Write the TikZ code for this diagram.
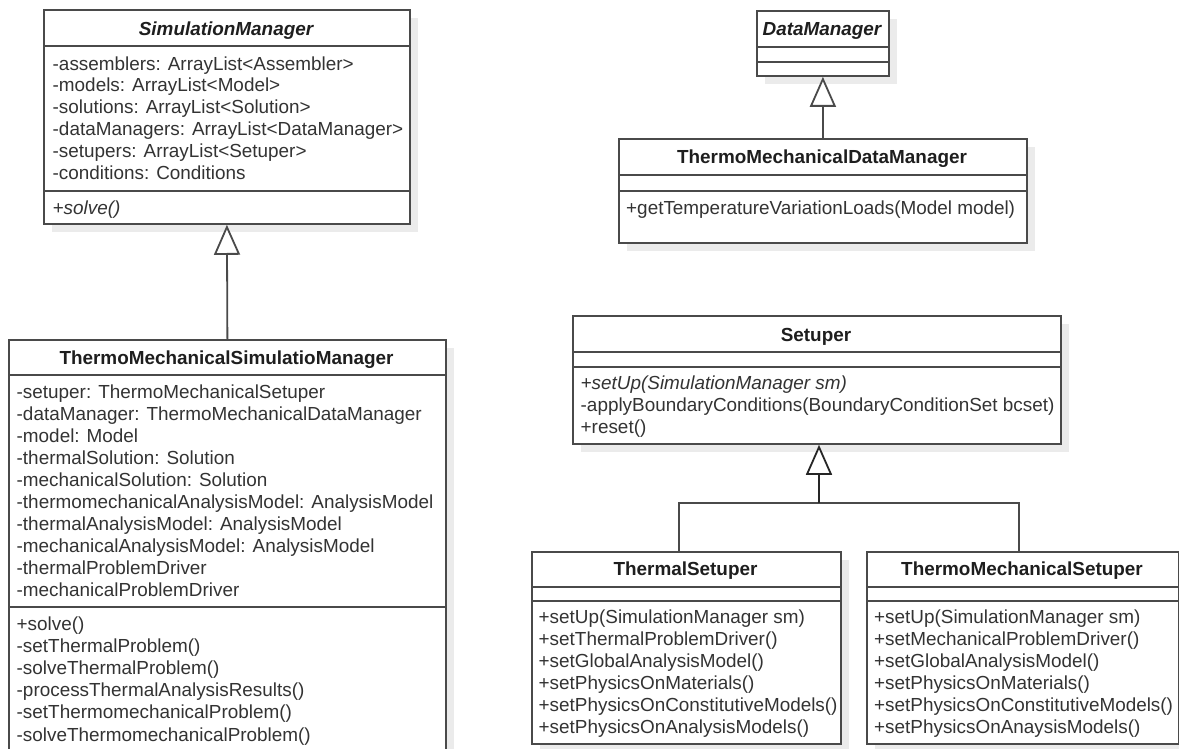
\documentclass[tikz,border=0pt]{standalone}
\usepackage{fontspec}
\setmainfont{Liberation Sans}
\usetikzlibrary{arrows.meta,shadows}

\definecolor{edge}{HTML}{4A4A4A}
\definecolor{stem}{HTML}{262626}
\definecolor{ink}{HTML}{333333}
\definecolor{headink}{HTML}{1E1E1E}
\definecolor{shade}{HTML}{EBEBEB}

\newcommand\umlfont{\fontsize{18.9}{22}\selectfont}

\tikzset{
  umlbox/.style={rectangle, draw=edge, line width=1.8pt, fill=white, inner sep=0pt,
    anchor=north west,
    drop shadow={shadow xshift=8pt, shadow yshift=-8pt, fill=shade, opacity=1}},
  compart/.style={draw=edge, line width=1.8pt},
  ln/.style={anchor=west, inner sep=0pt, text height=13.5pt, text depth=0pt,
    font=\umlfont, text=ink},
  classname/.style={anchor=center, inner sep=0pt, text height=13.5pt, text depth=0pt,
    font=\umlfont\bfseries, text=headink},
  tree/.style={draw=edge, line width=1.8pt},
  inherit/.style={draw=edge, line width=1.8pt,
    -{Triangle[length=30pt, width=26pt, fill=white]}},
}

\begin{document}
\begin{tikzpicture}[x=1pt, y=-1pt]
\useasboundingbox (0,0) rectangle (1179,749);
\clip (0,0) rectangle (1179,749);

% ---------- SimulationManager ----------
\node[umlbox, minimum width=366pt, minimum height=214pt] (sm) at (43,9) {};
\draw[compart] (43,46) -- (409,46);
\draw[compart] (43,191) -- (409,191);
\node[classname, font=\umlfont\bfseries\itshape] (sm-t) at (226,28.5) {SimulationManager};
\foreach [count=\i] \t in {{-assemblers: ArrayList<Assembler>},
    {-models: ArrayList<Model>},
    {-solutions: ArrayList<Solution>},
    {-dataManagers: ArrayList<DataManager>},
    {-setupers: ArrayList<Setuper>},
    {-conditions: Conditions}}
  \node[ln, name=sm-a\i] at (52.5,{63.3+21.9*(\i-1)}) {\t};
\node[ln, font=\umlfont\itshape] (sm-m1) at (52.5,207.3) {+solve()};

% ---------- ThermoMechanicalSimulatioManager ----------
\node[umlbox, minimum width=437pt, minimum height=470pt] (tmsm) at (8,339) {};
\draw[compart] (8,375) -- (445,375);
\draw[compart] (8,607) -- (445,607);
\node[classname] (tmsm-t) at (226.5,358) {ThermoMechanicalSimulatioManager};
\foreach [count=\i] \t in {{-setuper: ThermoMechanicalSetuper},
    {-dataManager: ThermoMechanicalDataManager},
    {-model: Model},
    {-thermalSolution: Solution},
    {-mechanicalSolution: Solution},
    {-thermomechanicalAnalysisModel: AnalysisModel},
    {-thermalAnalysisModel: AnalysisModel},
    {-mechanicalAnalysisModel: AnalysisModel},
    {-thermalProblemDriver},
    {-mechanicalProblemDriver}}
  \node[ln, name=tmsm-a\i] at (16.5,{391.7+22*(\i-1)}) {\t};
\foreach [count=\i] \t in {{+solve()},
    {-setThermalProblem()},
    {-solveThermalProblem()},
    {-processThermalAnalysisResults()},
    {-setThermomechanicalProblem()},
    {-solveThermomechanicalProblem()}}
  \node[ln, name=tmsm-m\i] at (16.5,{623.3+22.2*(\i-1)}) {\t};

% ---------- DataManager ----------
\node[umlbox, minimum width=132pt, minimum height=65pt] (dm) at (756,10) {};
\draw[compart] (756,47) -- (888,47);
\draw[compart] (756,62) -- (888,62);
\node[classname, font=\umlfont\bfseries\itshape] (dm-t) at (822,29) {DataManager};

% ---------- ThermoMechanicalDataManager ----------
\node[umlbox, minimum width=408pt, minimum height=104pt] (tmdm) at (618,138) {};
\draw[compart] (618,175) -- (1026,175);
\draw[compart] (618,191) -- (1026,191);
\node[classname] (tmdm-t) at (822,157) {ThermoMechanicalDataManager};
\node[ln] (tmdm-m1) at (626,208) {+getTemperatureVariationLoads(Model model)};

% ---------- Setuper ----------
\node[umlbox, minimum width=488pt, minimum height=128pt] (st) at (572,315) {};
\draw[compart] (572,352) -- (1060,352);
\draw[compart] (572,367) -- (1060,367);
\node[classname] (st-t) at (816,335) {Setuper};
\node[ln, font=\umlfont\itshape] (st-m1) at (580.5,383) {+setUp(SimulationManager sm)};
\node[ln] (st-m2) at (580.5,405) {-applyBoundaryConditions(BoundaryConditionSet bcset)};
\node[ln] (st-m3) at (580.5,427) {+reset()};

% ---------- ThermalSetuper ----------
\node[umlbox, minimum width=309pt, minimum height=192pt] (th) at (531,551) {};
\draw[compart] (531,587) -- (840,587);
\draw[compart] (531,601) -- (840,601);
\node[classname] (th-t) at (685.5,569) {ThermalSetuper};
\foreach [count=\i] \t in {{+setUp(SimulationManager sm)},
    {+setThermalProblemDriver()},
    {+setGlobalAnalysisModel()},
    {+setPhysicsOnMaterials()},
    {+setPhysicsOnConstitutiveModels()},
    {+setPhysicsOnAnalysisModels()}}
  \node[ln, name=th-m\i] at (538.5,{617+21.9*(\i-1)}) {\t};

% ---------- ThermoMechanicalSetuper ----------
\node[umlbox, minimum width=312pt, minimum height=192pt] (tms) at (866,551) {};
\draw[compart] (866,587) -- (1178,587);
\draw[compart] (866,601) -- (1178,601);
\node[classname] (tms-t) at (1022,569) {ThermoMechanicalSetuper};
\foreach [count=\i] \t in {{+setUp(SimulationManager sm)},
    {+setMechanicalProblemDriver()},
    {+setGlobalAnalysisModel()},
    {+setPhysicsOnMaterials()},
    {+setPhysicsOnConstitutiveModels()},
    {+setPhysicsOnAnaysisModels()}}
  \node[ln, name=tms-m\i] at (874,{617+21.9*(\i-1)}) {\t};

% ---------- generalisations ----------
\draw[inherit] (tmsm.north) -- (sm.south);
\draw[inherit] (tmdm.north) -- (dm.south);

\coordinate (jn) at (819,503);
\draw[tree] ([xshift=-7.5pt]th.north) |- (jn) -| ([xshift=-4pt]tms.north);
\draw[inherit, draw=stem] (jn) -- (jn |- st.south);
\end{tikzpicture}
\end{document}
